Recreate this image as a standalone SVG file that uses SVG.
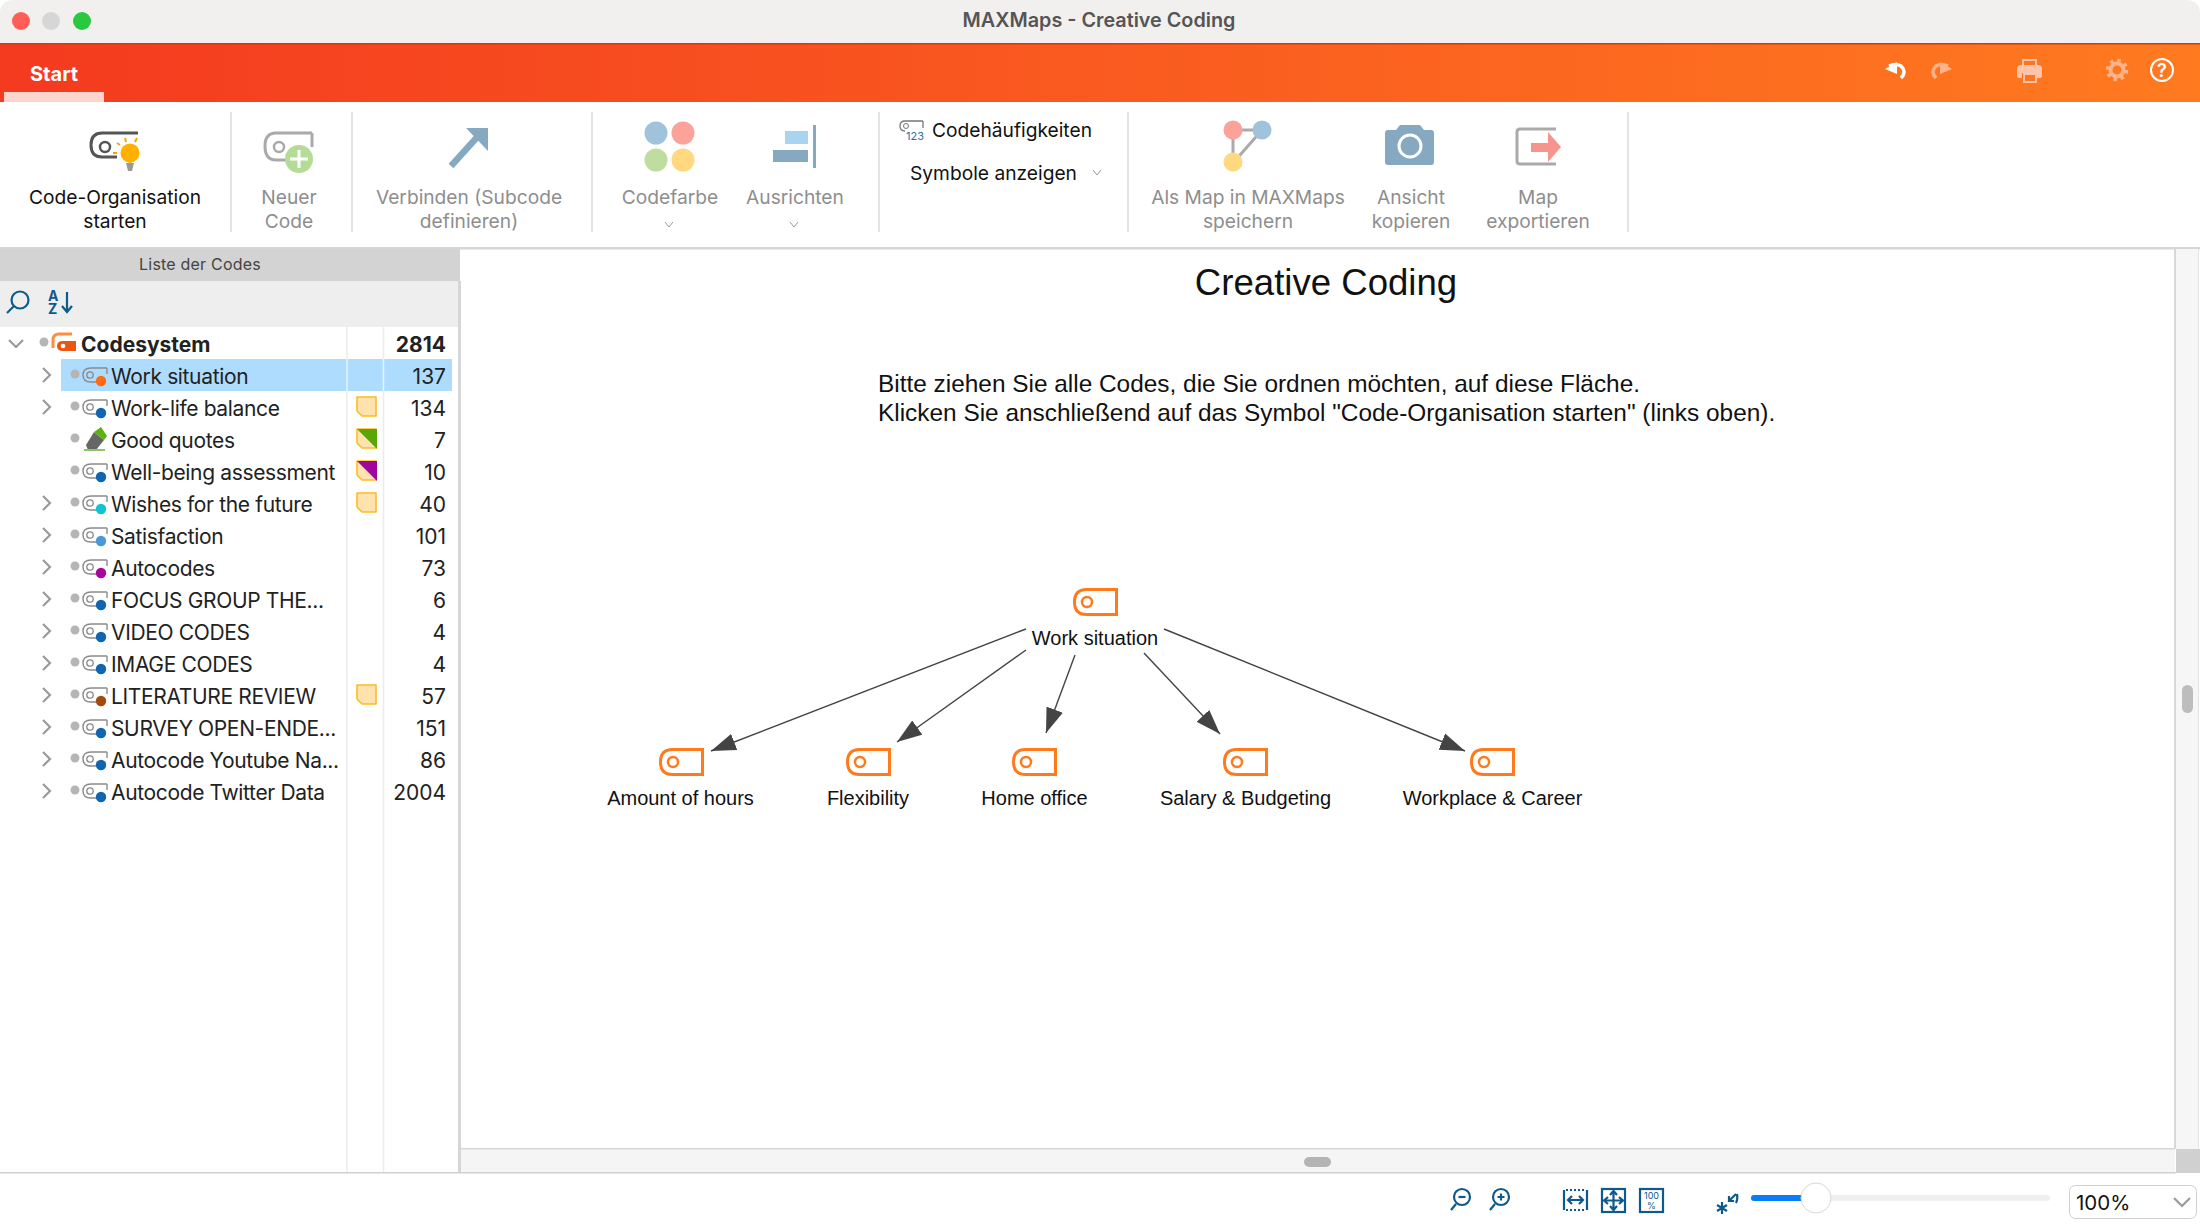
<svg xmlns="http://www.w3.org/2000/svg" width="2200" height="1230" viewBox="0 0 2200 1230">
<style>
.ui{font-family:Inter,"Noto Sans",sans-serif}
.rb{font-family:Inter,"Noto Sans",sans-serif;font-size:19.2px;fill:#8e8e8e;text-anchor:middle}
.rbk{fill:#111}
.row{font-family:Inter,"Noto Sans",sans-serif;font-size:21px;letter-spacing:-.35px;fill:#222}
.num{font-family:Inter,"Noto Sans",sans-serif;font-size:21px;fill:#222;text-anchor:end}
.map{font-family:"Liberation Sans",Arial,sans-serif;font-size:20px;fill:#111;text-anchor:middle}
.sep{stroke:#dcdcdc;stroke-width:1.5}
.chev{fill:none;stroke:#9a9a9a;stroke-width:2.2}
.conn{stroke:#444;stroke-width:1.4;fill:none;marker-end:url(#ah)}
.dot{fill:#b5b5b5}
.ni{fill:#fff;stroke:#ff7a1a;stroke-width:3}
.bl{fill:none;stroke:#0f5a8c;stroke-width:2.2}
</style>
<defs>
<linearGradient id="bar" x1="0" x2="1" y1="0" y2="0"><stop offset="0" stop-color="#f43a1f"/><stop offset="1" stop-color="#ff7a1f"/></linearGradient>
<marker id="ah" markerUnits="userSpaceOnUse" markerWidth="26" markerHeight="18" refX="23" refY="8" orient="auto" viewBox="0 0 24 16"><path d="M0 0L23 8L0 16Z" fill="#444"/></marker>
<g id="ci"><path d="M24 0H8Q0 0 0 7Q0 14 8 14H20" fill="none" stroke="#8a8a8a" stroke-width="1.4"/><path d="M24 0V6" stroke="#8a8a8a" stroke-width="1.4"/><circle cx="7" cy="7" r="3.2" fill="none" stroke="#8a8a8a" stroke-width="1.3"/></g>
<g id="note"><path d="M1 1H20V20H6L1 15Z" fill="#ffe3ae" stroke="#ffbc1f" stroke-width="1.6" stroke-linejoin="round"/></g>
<g id="mapicon"><path d="M43.500 1.500H13.500Q1.500 1.500 1.500 14Q1.500 26.500 13.500 26.500H43.500Z" class="ni"/><circle cx="14" cy="14" r="5" fill="none" stroke="#ff7a1a" stroke-width="2.500"/></g>
</defs>

<rect width="2200" height="1230" fill="#fff"/>

<g id="titlebar">
<path d="M0 43V14Q0 0 14 0H2186Q2200 0 2200 14V43Z" fill="#f2f0ee"/>
<circle cx="21" cy="21" r="9" fill="#ff5f57"/><circle cx="51" cy="21" r="9" fill="#d6d6d6"/><circle cx="82" cy="21" r="9" fill="#28c840"/>
<text x="1099" y="27" text-anchor="middle" class="ui" font-size="19.800" font-weight="600" fill="#555">MAXMaps - Creative Coding</text>
</g>

<g id="menubar">
<rect y="43" width="2200" height="59" fill="url(#bar)"/>
<rect y="43" width="2200" height="1.500" fill="#d8380f"/>
<rect x="4" y="92" width="100" height="10" fill="#ffd4cc"/>
<text x="54" y="81" text-anchor="middle" class="ui" font-size="20" font-weight="700" fill="#fff">Start</text>
<path d="M1901 78Q1907 72 1901 66Q1896 63 1889 66" fill="none" stroke="#fff" stroke-width="3.500"/><path d="M1885 69L1897 62V74Z" fill="#fff"/>
<path d="M1936 78Q1930 72 1936 66Q1941 63 1948 66" fill="none" stroke="#ffb38a" stroke-width="3.500"/><path d="M1952 69L1940 62V74Z" fill="#ffb38a"/>
<path d="M2023 60H2036V66H2023Z" fill="none" stroke="#ffc4a8" stroke-width="2"/><path d="M2021 65H2038Q2042 65 2042 69V76Q2042 78 2040 78H2037V73H2022V78H2019Q2017 78 2017 76V69Q2017 65 2021 65Z" fill="#ffc4a8"/><rect x="2024" y="74" width="12" height="8" fill="none" stroke="#ffc4a8" stroke-width="2"/>
<circle cx="2117" cy="70" r="6.500" fill="none" stroke="#ffb38a" stroke-width="4"/><circle cx="2117" cy="70" r="9.500" fill="none" stroke="#ffb38a" stroke-width="3.500" stroke-dasharray="3.500 3.960"/>
<circle cx="2162" cy="70" r="11" fill="none" stroke="#fff" stroke-width="2"/><text x="2162" y="77" text-anchor="middle" class="ui" font-size="18" font-weight="600" fill="#fff">?</text>
</g>

<g id="ribbon">
<rect y="102" width="2200" height="146" fill="#fff"/>
<rect y="247" width="2200" height="2.500" fill="#d6d6d6"/>
<path class="sep" d="M231 112V232M352 112V232M592 112V232M879 112V232M1128 112V232M1628 112V232"/>
<g id="btn-organise">
<path d="M138 133H102Q91 133 91 145Q91 157 102 157H117" fill="none" stroke="#555" stroke-width="3"/>
<circle cx="105" cy="147" r="5" fill="none" stroke="#555" stroke-width="2.500"/>
<circle cx="130" cy="153" r="9.500" fill="#ffb000"/><path d="M121 155L130 164L139 155Z" fill="#ffb000"/><path d="M126 163H134L132 171H128Z" fill="#9a9a9a"/>
<path d="M117 143L120 145M125 138L126 142M137 138L135 142M113 153H117" stroke="#ffa000" stroke-width="2" fill="none"/>
<text class="rb rbk" x="115" y="204">Code-Organisation</text><text class="rb rbk" x="115" y="228">starten</text>
</g>
<g id="btn-new">
<path d="M312 133H276Q265 133 265 146Q265 160 276 160H286" fill="none" stroke="#aaa" stroke-width="3"/><path d="M312 133V147" stroke="#aaa" stroke-width="3"/>
<circle cx="279" cy="147" r="5" fill="none" stroke="#aaa" stroke-width="2.500"/>
<circle cx="299" cy="159" r="14" fill="#b5dc96"/><path d="M299 150V168M290 159H308" stroke="#fff" stroke-width="3"/>
<text class="rb" x="289" y="204">Neuer</text><text class="rb" x="289" y="228">Code</text>
</g>
<g id="btn-connect">
<path d="M451 166L480 134" stroke="#86a9c2" stroke-width="6.500"/><path d="M466 128H488V151Z" fill="#86a9c2"/>
<text class="rb" x="469" y="204">Verbinden (Subcode</text><text class="rb" x="469" y="228">definieren)</text>
</g>
<g id="btn-colour">
<circle cx="656" cy="133" r="11.500" fill="#a1c2db"/><circle cx="683" cy="133" r="11.500" fill="#fba39a"/><circle cx="656" cy="160" r="11.500" fill="#bfdd9f"/><circle cx="683" cy="160" r="11.500" fill="#ffd87f"/>
<text class="rb" x="670" y="204">Codefarbe</text><path class="chev" style="stroke-width:1" d="M665 222L669 227L673 222"/>
</g>
<g id="btn-align">
<rect x="785" y="131" width="23" height="13" fill="#a9d4f0"/><rect x="773" y="150" width="35" height="12" fill="#86a9c2"/><rect x="813" y="125" width="3" height="43" fill="#86a9c2"/>
<text class="rb" x="795" y="204">Ausrichten</text><path class="chev" style="stroke-width:1" d="M790 222L794 227L798 222"/>
</g>
<g id="btn-freq">
<path d="M923 121H905Q900 121 900 126Q900 131 905 131M923 121V128" fill="none" stroke="#777" stroke-width="1.300"/><circle cx="906" cy="126" r="2.500" fill="none" stroke="#777"/>
<text x="906" y="140" class="ui" font-size="11" fill="#2a6fa8">123</text>
<text x="932" y="137" class="ui" font-size="19.200" fill="#111">Codehäufigkeiten</text>
<text x="910" y="180" class="ui" font-size="19.200" fill="#111">Symbole anzeigen</text>
<path class="chev" style="stroke-width:1" d="M1093 170L1097 175L1101 170"/>
</g>
<g id="btn-savemap">
<path d="M1233 130H1262L1233 163Z" fill="none" stroke="#aaa" stroke-width="3"/>
<circle cx="1233" cy="130" r="9.500" fill="#fba39a"/><circle cx="1262" cy="130" r="9.500" fill="#a1c2db"/><circle cx="1233" cy="162" r="9.500" fill="#ffd87f"/>
<text class="rb" x="1248" y="204">Als Map in MAXMaps</text><text class="rb" x="1248" y="228">speichern</text>
</g>
<g id="btn-camera">
<path d="M1388 130H1396L1400 125H1420L1424 130H1431Q1434 130 1434 133V162Q1434 165 1431 165H1388Q1385 165 1385 162V133Q1385 130 1388 130Z" fill="#86a9c2"/>
<circle cx="1410" cy="146" r="11" fill="none" stroke="#fff" stroke-width="3"/>
<text class="rb" x="1411" y="204">Ansicht</text><text class="rb" x="1411" y="228">kopieren</text>
</g>
<g id="btn-export">
<path d="M1556 129H1520Q1517 129 1517 132V161Q1517 164 1520 164H1556" fill="none" stroke="#aaa" stroke-width="3"/>
<rect x="1531" y="143" width="17" height="9" fill="#f7958d"/><path d="M1548 132L1561 147L1548 162Z" fill="#f7958d"/>
<text class="rb" x="1538" y="204">Map</text><text class="rb" x="1538" y="228">exportieren</text>
</g>
</g>

<g id="code-panel">
<rect y="249" width="460" height="924" fill="#fff"/>
<rect y="249" width="460" height="32" fill="#d3d3d3"/>
<rect y="281" width="458" height="46" fill="#eeeeee"/>
<rect x="458" y="281" width="3" height="892" fill="#d6d6d6"/>
<text x="200" y="270" text-anchor="middle" class="ui" font-size="16" letter-spacing=".2" fill="#444">Liste der Codes</text>
<g id="search"><circle cx="20" cy="300" r="8.500" class="bl"/><path d="M14 306L7 313" class="bl" stroke-width="3"/></g>
<g id="sort"><text x="48" y="301" class="ui" font-size="14" font-weight="700" fill="#0f5a8c">A</text><text x="48" y="314" class="ui" font-size="14" font-weight="700" fill="#0f5a8c">Z</text><path d="M67 292V311M62 306L67 312L72 306" class="bl"/></g>
<path d="M347 327V1173M383.500 327V1173" stroke="#ececec" stroke-width="1.500"/>
<g id="row-root">
<path class="chev" stroke-width="1.500" d="M9 340L16 347L23 340"/>
<circle cx="44" cy="342" r="4.500" class="dot"/>
<path d="M53 348V340Q53 334 59 334H72" fill="none" stroke="#ff8f3f" stroke-width="3"/>
<path d="M63 341H76V351H63Q57 351 57 346Q57 341 63 341Z" fill="#e8560f"/><circle cx="63" cy="346" r="2.300" fill="#fff"/>
<text x="81" y="352" class="row" style="letter-spacing:0" font-weight="700">Codesystem</text><text x="446" y="352" class="num" font-weight="700">2814</text>
</g>
<rect x="61" y="359" width="391" height="32" fill="#aedcff"/><path d="M347 359V391M383.500 359V391" stroke="#e8f4fc" stroke-width="1.500"/>
<g id="row-1"><path class="chev" d="M43 368L50 375L43 382"/><circle cx="75" cy="374" r="4.500" class="dot"/><use href="#ci" x="83" y="368"/><circle cx="101" cy="381" r="5.200" fill="#ff6a13"/><text x="111" y="384" class="row">Work situation</text><text x="446" y="384" class="num">137</text></g>
<g id="row-2"><path class="chev" d="M43 400L50 407L43 414"/><circle cx="75" cy="406" r="4.500" class="dot"/><use href="#ci" x="83" y="400"/><circle cx="101" cy="413" r="5.200" fill="#0f65b0"/><text x="111" y="416" class="row">Work-life balance</text><use href="#note" x="356" y="396"/><text x="446" y="416" class="num">134</text></g>
<g id="row-3"><circle cx="75" cy="438" r="4.500" class="dot"/><path d="M86 445L94 432L104 440L96 450H88Z" fill="#666"/><path d="M94 432L101 427L107 436L104 440Z" fill="#5cb310"/><rect x="84" y="449" width="21" height="2" fill="#8bc66a"/><text x="111" y="448" class="row">Good quotes</text><use href="#note" x="356" y="428"/><path d="M357 429H377V449Z" fill="#5aa606"/><text x="446" y="448" class="num">7</text></g>
<g id="row-4"><circle cx="75" cy="470" r="4.500" class="dot"/><use href="#ci" x="83" y="464"/><circle cx="101" cy="477" r="5.200" fill="#0f65b0"/><text x="111" y="480" class="row">Well-being assessment</text><use href="#note" x="356" y="460"/><path d="M357 461H377V481Z" fill="#a0069b"/><text x="446" y="480" class="num">10</text></g>
<g id="row-5"><path class="chev" d="M43 496L50 503L43 510"/><circle cx="75" cy="502" r="4.500" class="dot"/><use href="#ci" x="83" y="496"/><circle cx="101" cy="509" r="5.200" fill="#10c4d6"/><text x="111" y="512" class="row">Wishes for the future</text><use href="#note" x="356" y="492"/><text x="446" y="512" class="num">40</text></g>
<g id="row-6"><path class="chev" d="M43 528L50 535L43 542"/><circle cx="75" cy="534" r="4.500" class="dot"/><use href="#ci" x="83" y="528"/><circle cx="101" cy="541" r="5.200" fill="#4a98d8"/><text x="111" y="544" class="row">Satisfaction</text><text x="446" y="544" class="num">101</text></g>
<g id="row-7"><path class="chev" d="M43 560L50 567L43 574"/><circle cx="75" cy="566" r="4.500" class="dot"/><use href="#ci" x="83" y="560"/><circle cx="101" cy="573" r="5.200" fill="#a8069f"/><text x="111" y="576" class="row">Autocodes</text><text x="446" y="576" class="num">73</text></g>
<g id="row-8"><path class="chev" d="M43 592L50 599L43 606"/><circle cx="75" cy="598" r="4.500" class="dot"/><use href="#ci" x="83" y="592"/><circle cx="101" cy="605" r="5.200" fill="#0f65b0"/><text x="111" y="608" class="row">FOCUS GROUP THE...</text><text x="446" y="608" class="num">6</text></g>
<g id="row-9"><path class="chev" d="M43 624L50 631L43 638"/><circle cx="75" cy="630" r="4.500" class="dot"/><use href="#ci" x="83" y="624"/><circle cx="101" cy="637" r="5.200" fill="#0f65b0"/><text x="111" y="640" class="row">VIDEO CODES</text><text x="446" y="640" class="num">4</text></g>
<g id="row-10"><path class="chev" d="M43 656L50 663L43 670"/><circle cx="75" cy="662" r="4.500" class="dot"/><use href="#ci" x="83" y="656"/><circle cx="101" cy="669" r="5.200" fill="#0f65b0"/><text x="111" y="672" class="row">IMAGE CODES</text><text x="446" y="672" class="num">4</text></g>
<g id="row-11"><path class="chev" d="M43 688L50 695L43 702"/><circle cx="75" cy="694" r="4.500" class="dot"/><use href="#ci" x="83" y="688"/><circle cx="101" cy="701" r="5.200" fill="#a34a0c"/><text x="111" y="704" class="row">LITERATURE REVIEW</text><use href="#note" x="356" y="684"/><text x="446" y="704" class="num">57</text></g>
<g id="row-12"><path class="chev" d="M43 720L50 727L43 734"/><circle cx="75" cy="726" r="4.500" class="dot"/><use href="#ci" x="83" y="720"/><circle cx="101" cy="733" r="5.200" fill="#0f65b0"/><text x="111" y="736" class="row">SURVEY OPEN-ENDE...</text><text x="446" y="736" class="num">151</text></g>
<g id="row-13"><path class="chev" d="M43 752L50 759L43 766"/><circle cx="75" cy="758" r="4.500" class="dot"/><use href="#ci" x="83" y="752"/><circle cx="101" cy="765" r="5.200" fill="#0f65b0"/><text x="111" y="768" class="row">Autocode Youtube Na...</text><text x="446" y="768" class="num">86</text></g>
<g id="row-14"><path class="chev" d="M43 784L50 791L43 798"/><circle cx="75" cy="790" r="4.500" class="dot"/><use href="#ci" x="83" y="784"/><circle cx="101" cy="797" r="5.200" fill="#0f65b0"/><text x="111" y="800" class="row">Autocode Twitter Data</text><text x="446" y="800" class="num">2004</text></g>
</g>

<g id="canvas">
<text x="1326" y="295" text-anchor="middle" font-family="Liberation Sans,Arial,sans-serif" font-size="36.600" fill="#111">Creative Coding</text>
<text x="878" y="392" font-family="Liberation Sans,Arial,sans-serif" font-size="24.400" fill="#111">Bitte ziehen Sie alle Codes, die Sie ordnen möchten, auf diese Fläche.</text>
<text x="878" y="421" font-family="Liberation Sans,Arial,sans-serif" font-size="24.400" fill="#111">Klicken Sie anschließend auf das Symbol "Code-Organisation starten" (links oben).</text>
<g id="connectors">
<path class="conn" d="M1026 629L711 751"/>
<path class="conn" d="M1026 650L897 742"/>
<path class="conn" d="M1075 655L1046 733"/>
<path class="conn" d="M1144 653L1220 734"/>
<path class="conn" d="M1164 629L1465 751"/>
</g>
<g id="node-work"><use href="#mapicon" x="1073" y="588"/><text class="map" x="1095" y="644.500">Work situation</text></g>
<g id="node-hours"><use href="#mapicon" x="659" y="748"/><text class="map" x="680.500" y="804.500">Amount of hours</text></g>
<g id="node-flex"><use href="#mapicon" x="846" y="748"/><text class="map" x="868" y="804.500">Flexibility</text></g>
<g id="node-home"><use href="#mapicon" x="1012" y="748"/><text class="map" x="1034.500" y="804.500">Home office</text></g>
<g id="node-salary"><use href="#mapicon" x="1223" y="748"/><text class="map" x="1245.500" y="804.500">Salary &amp; Budgeting</text></g>
<g id="node-career"><use href="#mapicon" x="1470" y="748"/><text class="map" x="1492.500" y="804.500">Workplace &amp; Career</text></g>
</g>

<g id="scrollbars">
<rect x="2175" y="249" width="23" height="900" fill="#f6f6f6"/><rect x="2174" y="249" width="2" height="900" fill="#d8d8d8"/><rect x="2198" y="249" width="1" height="900" fill="#e4e4e4"/>
<rect x="2182" y="685" width="11" height="28" rx="5.500" fill="#bdbdbd"/>
<rect x="461" y="1149" width="1714" height="24" fill="#f5f5f5"/><rect x="461" y="1148" width="1714" height="1.500" fill="#d8d8d8"/>
<rect x="1304" y="1157" width="27" height="10" rx="5" fill="#b4b4b4"/>
<rect x="2176" y="1149" width="24" height="24" fill="#d0d0d0"/>
<rect y="1172" width="2176" height="1.500" fill="#d0d0d0"/>
</g>

<g id="statusbar">
<g id="zoom-out"><circle cx="1462" cy="1197" r="8" class="bl"/><path d="M1456 1204L1451 1210" class="bl" stroke-width="3"/><path d="M1458.500 1197H1465.500" class="bl" stroke-width="1.500"/></g>
<g id="zoom-in"><circle cx="1501" cy="1197" r="8" class="bl"/><path d="M1495 1204L1490 1210" class="bl" stroke-width="3"/><path d="M1497.500 1197H1504.500M1501 1193.500V1200.500" class="bl" stroke-width="1.500"/></g>
<g id="fit-width"><path d="M1564 1190V1210M1587 1190V1210" class="bl" stroke-width="3"/><path d="M1566 1190H1585M1566 1210H1585" class="bl" stroke-width="1" stroke-dasharray="2 2"/><path d="M1569 1200H1582M1572 1196L1568 1200L1572 1204M1579 1196L1583 1200L1579 1204" class="bl" stroke-width="1.800"/></g>
<rect x="1602" y="1189" width="23" height="23" class="bl" stroke-width="1.500"/><path d="M1613.500 1191V1210M1604 1200.500H1623M1610 1195L1613.500 1191L1617 1195M1610 1206L1613.500 1210L1617 1206M1608 1197L1604 1200.500L1608 1204M1619 1197L1623 1200.500L1619 1204" class="bl" stroke-width="1.800"/>
<rect x="1640" y="1189" width="23" height="23" class="bl" stroke-width="1.500"/><text x="1651.500" y="1199" text-anchor="middle" class="ui" font-size="9" fill="#0f5a8c">100</text><text x="1651.500" y="1209" text-anchor="middle" class="ui" font-size="9" fill="#0f5a8c">%</text>
<g id="reset"><path d="M1722 1202V1214M1717 1205L1727 1211M1727 1205L1717 1211" class="bl" stroke-width="1.600"/><path d="M1736 1194L1729 1201M1729 1196V1201H1734M1737 1194Q1738 1199 1736 1203" class="bl" stroke-width="1.400"/></g>
<rect x="1751" y="1195" width="299" height="6" rx="3" fill="#efefef"/><rect x="1751" y="1195" width="55" height="6" rx="3" fill="#0a7cf5"/>
<circle cx="1816" cy="1198" r="15" fill="#fff" stroke="#d8d8d8"/>
<rect x="2069.500" y="1185.500" width="127" height="33" rx="6" fill="#fff" stroke="#d0d0d0"/>
<text x="2076" y="1210" class="ui" font-size="20.500" fill="#111">100%</text>
<path d="M2174 1198L2182 1206L2190 1198" class="chev" stroke-width="1.500"/>
</g>
</svg>
